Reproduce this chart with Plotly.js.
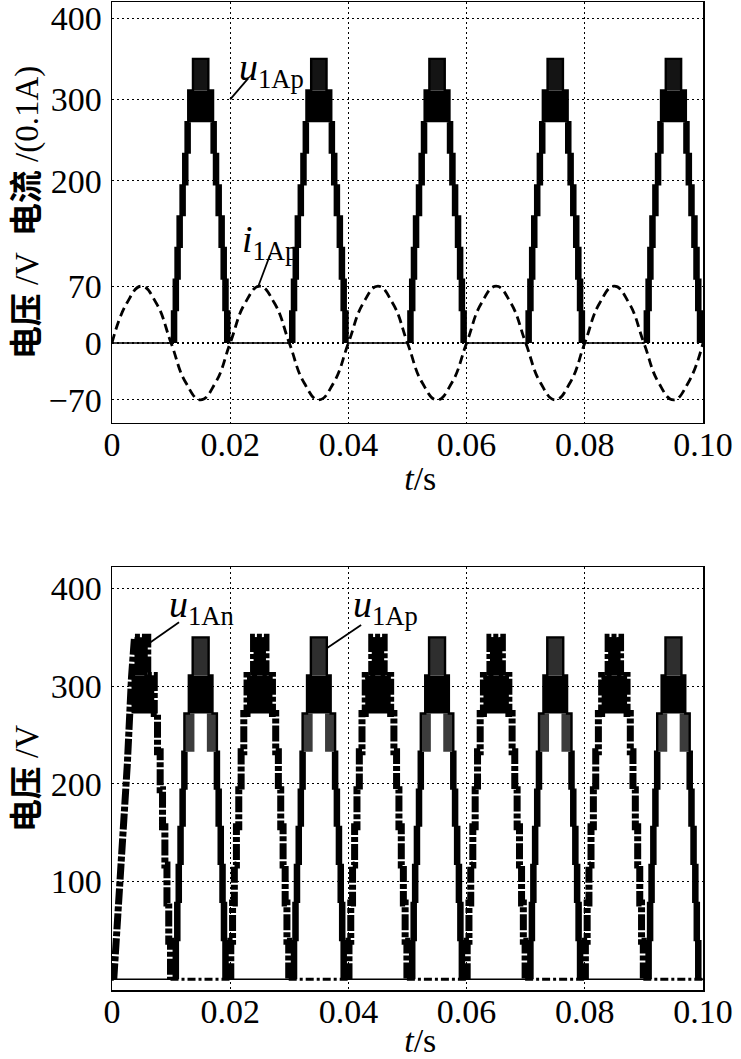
<!DOCTYPE html>
<html><head><meta charset="utf-8">
<script src="https://cdn.plot.ly/plotly-3.0.1.min.js"></script>
<style>html,body{margin:0;padding:0;background:#fff}#chart{width:741px;height:1059px}</style>
</head><body><div id="chart"></div>
<script>
// ---------- data ----------
// staircase voltage levels (V)
const levels = [0, 39, 78, 117, 156, 194, 233, 272, 311, 350];
// half-width (ms) of the tread of levels 1..9 around each half-cycle centre
const apTopHalfMs = [4.85, 4.55, 4.25, 3.9, 3.4, 2.95, 2.55, 2.1, 1.3];
const apBotHalfMs = [4.55, 4.3, 4.05, 3.75, 3.4, 3.1, 2.75, 2.0, 1.35];
const anBotHalfMs = [4.9, 4.6, 4.3, 3.95, 3.55, 3.15, 2.7, 2.15, 1.05];
// half-cycle centres (s)
const apCentres = [0.015, 0.035, 0.055, 0.075, 0.095];
const anCentres = [0.005, 0.025, 0.045, 0.065, 0.085];
// start-up ramp of the first u1An half-cycle
const anRampT = [0.0003, 0.0009, 0.0015, 0.0020, 0.0026, 0.0029, 0.0033, 0.0038];
const anRampV = [0, 50, 101, 163, 221, 268, 309, 350];
// arm current i1Ap (units of 0.1 A)
const iT = [0,0.0025,0.005,0.0075,0.01,0.0125,0.015,0.0175,0.02,0.0225,0.025,0.0275,0.03,0.0325,0.035,0.0375,0.04,0.0425,0.045,0.0475,0.05,0.0525,0.055,0.0575,0.06,0.0625,0.065,0.0675,0.07,0.0725,0.075,0.0775,0.08,0.0825,0.085,0.0875,0.09,0.0925,0.095,0.0975,0.1];
const iV = [0,49,70,49,0,-49,-70,-49,0,49,70,49,0,-49,-70,-49,0,49,70,49,0,-49,-70,-49,0,49,70,49,0,-49,-70,-49,0,49,70,49,0,-49,-70,-49,0];
// tick labels
const xTickVals = [0, 0.02, 0.04, 0.06, 0.08, 0.1];
const xTickText = ['0', '0.02', '0.04', '0.06', '0.08', '0.10'];
const yTopTickVals = [-70, 0, 70, 200, 300, 400];
const yTopTickText = ['\u221270', '0', '70', '200', '300', '400'];
const yBotTickVals = [100, 200, 300, 400];
const yBotTickText = ['100', '200', '300', '400'];

// ---------- helpers (build paths from the data) ----------
function stairs(centres, half, ramp) {
  const cyc = {x: [], y: []}, zero = {x: [0], y: [0]};
  centres.forEach((c, idx) => {
    let startT;
    if (ramp && idx === 0) {
      startT = ramp.t[0];
      ramp.t.forEach((t, j) => { cyc.x.push(t); cyc.y.push(ramp.v[j]); });
    } else {
      startT = c - half[0]/1000;
      for (let k = 1; k <= 9; k++) { const t = c - half[k-1]/1000; cyc.x.push(t, t); cyc.y.push(levels[k-1], levels[k]); }
    }
    for (let k = 9; k >= 1; k--) { const t = c + half[k-1]/1000; cyc.x.push(t, t); cyc.y.push(levels[k], levels[k-1]); }
    cyc.x.push(null); cyc.y.push(null);
    zero.x.push(startT, null, c + half[0]/1000); zero.y.push(0, null, 0);
  });
  zero.x.push(0.1); zero.y.push(0);
  return {cyc: cyc, zero: zero};
}
function rect(o, x0, x1, y0, y1) {
  o.x.push(x0, x1, x1, x0, x0, null); o.y.push(y0, y0, y1, y1, y0, null);
}
// thick PWM bands on the risers of levels 1..upto
function riserBands(centres, half, upto, w) {
  const o = {x: [], y: []};
  centres.forEach(c => {
    for (let k = 1; k <= upto; k++) {
      const h = half[k-1]/1000;
      rect(o, c - h, c - h + w, levels[k-1], levels[k]);
      rect(o, c + h - w, c + h, levels[k-1], levels[k]);
    }
  });
  return o;
}
// side bands of one level only
function sideBands(centres, half, k, w) {
  const o = {x: [], y: []};
  centres.forEach(c => {
    const h = half[k-1]/1000;
    rect(o, c - h, c - h + w, levels[k-1], levels[k]);
    rect(o, c + h - w, c + h, levels[k-1], levels[k]);
  });
  return o;
}
function peakBlock(centres, half, k, leftOverride) {
  const o = {x: [], y: []};
  centres.forEach((c, idx) => {
    const h = half[k-1]/1000;
    let left = c - h;
    if (leftOverride && idx === 0) left = leftOverride;
    rect(o, left, c + h, levels[k-1], levels[k]);
  });
  return o;
}
function fillTrace(o, color, xa, ya) {
  return {x: o.x, y: o.y, xaxis: xa, yaxis: ya, type: 'scatter', mode: 'lines', fill: 'toself',
          fillcolor: color, line: {width: 0, color: color}, hoverinfo: 'skip'};
}
function lineTrace(o, xa, ya, line) {
  return {x: o.x, y: o.y, xaxis: xa, yaxis: ya, type: 'scatter', mode: 'lines', line: line, connectgaps: false, hoverinfo: 'skip'};
}

const apTop = stairs(apCentres, apTopHalfMs);
const apBot = stairs(apCentres, apBotHalfMs);
const anBot = stairs(anCentres, anBotHalfMs, {t: anRampT, v: anRampV});

const traces = [
  // top: current
  {x: iT, y: iV, type: 'scatter', mode: 'lines', line: {color: '#000', width: 2.8, dash: '9px,5px', shape: 'spline', smoothing: 1.3}, name: 'i1Ap'},
  fillTrace(riserBands(apCentres, apTopHalfMs, 7, 0.0009), '#000', 'x', 'y'),
  fillTrace(peakBlock(apCentres, apTopHalfMs, 8), '#000', 'x', 'y'),
  fillTrace(peakBlock(apCentres, apTopHalfMs, 9), '#141414', 'x', 'y'),
  lineTrace(apTop.zero, 'x', 'y', {color: '#000', width: 1.6}),
  lineTrace(apTop.cyc, 'x', 'y', {color: '#000', width: 2.4}),

  // bottom: u1An
  fillTrace(peakBlock(anCentres, anBotHalfMs, 8, anRampT[6]), '#000', 'x2', 'y2'),
  fillTrace(peakBlock(anCentres, anBotHalfMs, 9, anRampT[7]), '#000', 'x2', 'y2'),
  lineTrace(anBot.zero, 'x2', 'y2', {color: '#000', width: 3.2, dash: '8px,3px,3px,3px'}),
  lineTrace(anBot.cyc, 'x2', 'y2', {color: '#000', width: 7, dash: '16px,2px,5px,2px'}),
  // bottom: u1Ap
  lineTrace(apBot.zero, 'x2', 'y2', {color: '#000', width: 1.6}),
  fillTrace(riserBands(apCentres, apBotHalfMs, 6, 0.0009), '#000', 'x2', 'y2'),
  fillTrace(sideBands(apCentres, apBotHalfMs, 7, 0.0017), '#3c3c3c', 'x2', 'y2'),
  fillTrace(peakBlock(apCentres, apBotHalfMs, 8), '#000', 'x2', 'y2'),
  fillTrace(peakBlock(apCentres, apBotHalfMs, 9), '#2e2e2e', 'x2', 'y2'),
  lineTrace(apBot.cyc, 'x2', 'y2', {color: '#000', width: 2.4})
];

const serif = 'Liberation Serif';
const tickFont = {family: serif, size: 34, color: '#000'};
const cjk = (s) => '<span style="font-family:Noto Sans CJK SC;font-weight:bold">' + s + '</span>';
const xTitle = '\u200b\u00a0\u00a0\u00a0<i>t</i>/s';

function xAxis(anchor) {
  return {anchor: anchor, range: [0, 0.1], tickvals: xTickVals, ticktext: xTickText, tickfont: tickFont,
    showgrid: true, gridcolor: '#000', gridwidth: 1.2, griddash: '1.5px,3.5px', zeroline: false,
    showline: true, mirror: true, linecolor: '#000', linewidth: 1.5, ticks: '', ticklen: 0, ticklabelstandoff: -9,
    title: {text: xTitle, font: {family: serif, size: 34, color: '#000'}, standoff: 4}};
}
function yAxis(anchor, domain, range, vals, text, title) {
  return {anchor: anchor, domain: domain, range: range, tickvals: vals, ticktext: text, tickfont: tickFont,
    showgrid: true, gridcolor: '#000', gridwidth: 1.2, griddash: '1.5px,3.5px', zeroline: false,
    showline: true, mirror: true, linecolor: '#000', linewidth: 1.5, ticks: '', ticklen: 0, ticklabelstandoff: 2,
    title: {text: title, font: {family: serif, size: 33, color: '#000'}, standoff: 6}};
}

const labFont = {family: serif, size: 38, color: '#000'};
const annotations = [
  {xref: 'x', yref: 'y', x: 0.0212, y: 336, xanchor: 'left', yanchor: 'middle', showarrow: false, text: '<i>u</i><sub>1Ap</sub>', font: labFont},
  {xref: 'x', yref: 'y', x: 0.0217, y: 124, xanchor: 'left', yanchor: 'middle', showarrow: false, text: '<i>i</i><sub>1Ap</sub>', font: labFont},
  {xref: 'x2', yref: 'y2', x: 0.0093, y: 381, xanchor: 'left', yanchor: 'middle', showarrow: false, text: '<i>u</i><sub>1An</sub>', font: labFont},
  {xref: 'x2', yref: 'y2', x: 0.0405, y: 381, xanchor: 'left', yanchor: 'middle', showarrow: false, text: '<i>u</i><sub>1Ap</sub>', font: labFont}
];
// leader lines: anchored at a data point, drawn with pixel offsets
function leader(xr, yr, x, y, dx, dy) {
  return {type: 'line', xref: xr, yref: yr, xsizemode: 'pixel', ysizemode: 'pixel', xanchor: x, yanchor: y,
          x0: 0, y0: 0, x1: dx, y1: dy, line: {color: '#000', width: 1.8}};
}
const shapes = [
  leader('x', 'y', 0.02, 300, 18, 21),
  leader('x', 'y', 0.0247, 69, 12, 32),
  leader('x2', 'y2', 0.00627, 344, 30, 21),
  leader('x2', 'y2', 0.0364, 339, 34, 23)
];

const layout = {
  width: 741, height: 1059, margin: {l: 112, r: 38, t: 2, b: 69},
  paper_bgcolor: '#fff', plot_bgcolor: '#fff', showlegend: false,
  xaxis: xAxis('y'),
  xaxis2: xAxis('y2'),
  yaxis: yAxis('x', [0.5739, 1], [-98.5, 420], yTopTickVals, yTopTickText, cjk('电压') + ' /V  ' + cjk('电流') + ' /(0.1A)'),
  yaxis2: yAxis('x2', [0, 0.4281], [-11, 422], yBotTickVals, yBotTickText, cjk('电压') + ' /V'),
  annotations: annotations,
  shapes: shapes
};

Plotly.newPlot('chart', traces, layout, {staticPlot: true, displayModeBar: false});
</script></body></html>
